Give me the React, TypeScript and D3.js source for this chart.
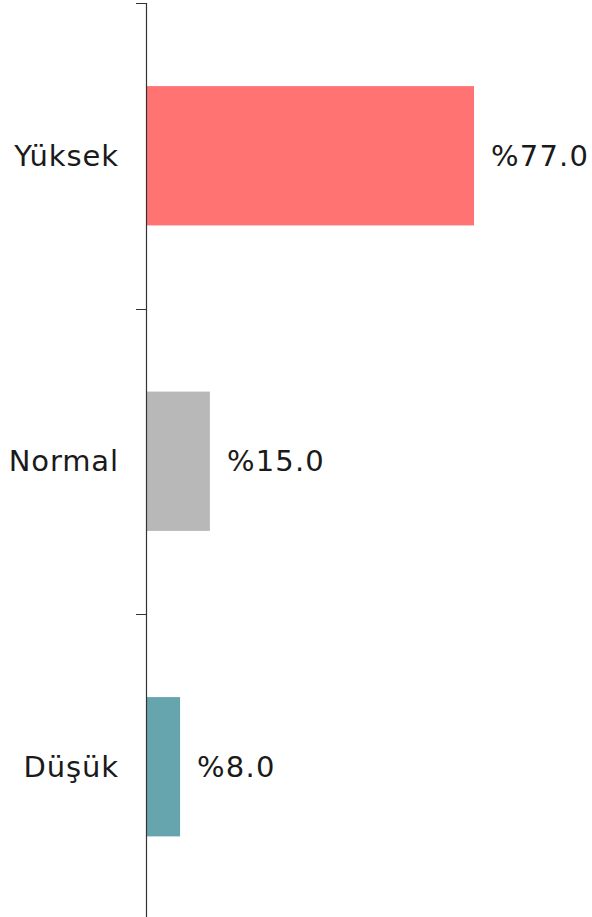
import React from "react";
import * as d3 from "d3";

const categories = ["Yüksek", "Normal", "Düşük"];
const values = [77.0, 15.0, 8.0];
const colors = ["#FF7373", "#B8B8B8", "#66A5AD"];

export default function App() {
  const width = 592;
  const height = 917;
  const axisX = 146;
  const x = d3.scaleLinear().domain([0, 100]).range([axisX, 572]);
  const pi = 0.544;
  const y = d3
    .scaleBand<string>()
    .domain(categories)
    .range([3, 919.5])
    .paddingInner(pi)
    .paddingOuter(pi / 2);
  const step = y.step();
  const bw = y.bandwidth();
  const font = "'DejaVu Sans', Verdana, sans-serif";
  const fs = 29;
  return (
    <svg
      width={width}
      height={height}
      style={{ position: "absolute", left: 0, top: 0, display: "block" }}
    >
      <rect width={width} height={height} fill="#fff" />
      {categories.map((c, i) => {
        const y0 = y(c)!;
        const cy = y0 + bw / 2;
        const tickY = y0 - (pi * step) / 2;
        return (
          <g key={c}>
            <rect
              x={x(0)}
              y={y0}
              width={x(values[i]) - x(0)}
              height={bw}
              fill={colors[i]}
            />
            <line
              x1={axisX - 10}
              x2={axisX}
              y1={Math.round(tickY) + 0.5}
              y2={Math.round(tickY) + 0.5}
              stroke="#333"
              strokeWidth={1}
            />
            <text
              x={axisX - 27}
              y={cy}
              dy="0.35em"
              textAnchor="end"
              fontFamily={font}
              fontSize={fs}
              letterSpacing={0.9}
              fill="#1a1a1a"
            >
              {c}
            </text>
            <text
              x={x(values[i]) + 17}
              y={cy}
              dy="0.35em"
              textAnchor="start"
              fontFamily={font}
              fontSize={fs}
              letterSpacing={1.2}
              fill="#1a1a1a"
            >
              {"%" + values[i].toFixed(1)}
            </text>
          </g>
        );
      })}
      <line
        x1={axisX + 0.5}
        x2={axisX + 0.5}
        y1={3}
        y2={919.5}
        stroke="#333"
        strokeWidth={1.2}
      />
    </svg>
  );
}
